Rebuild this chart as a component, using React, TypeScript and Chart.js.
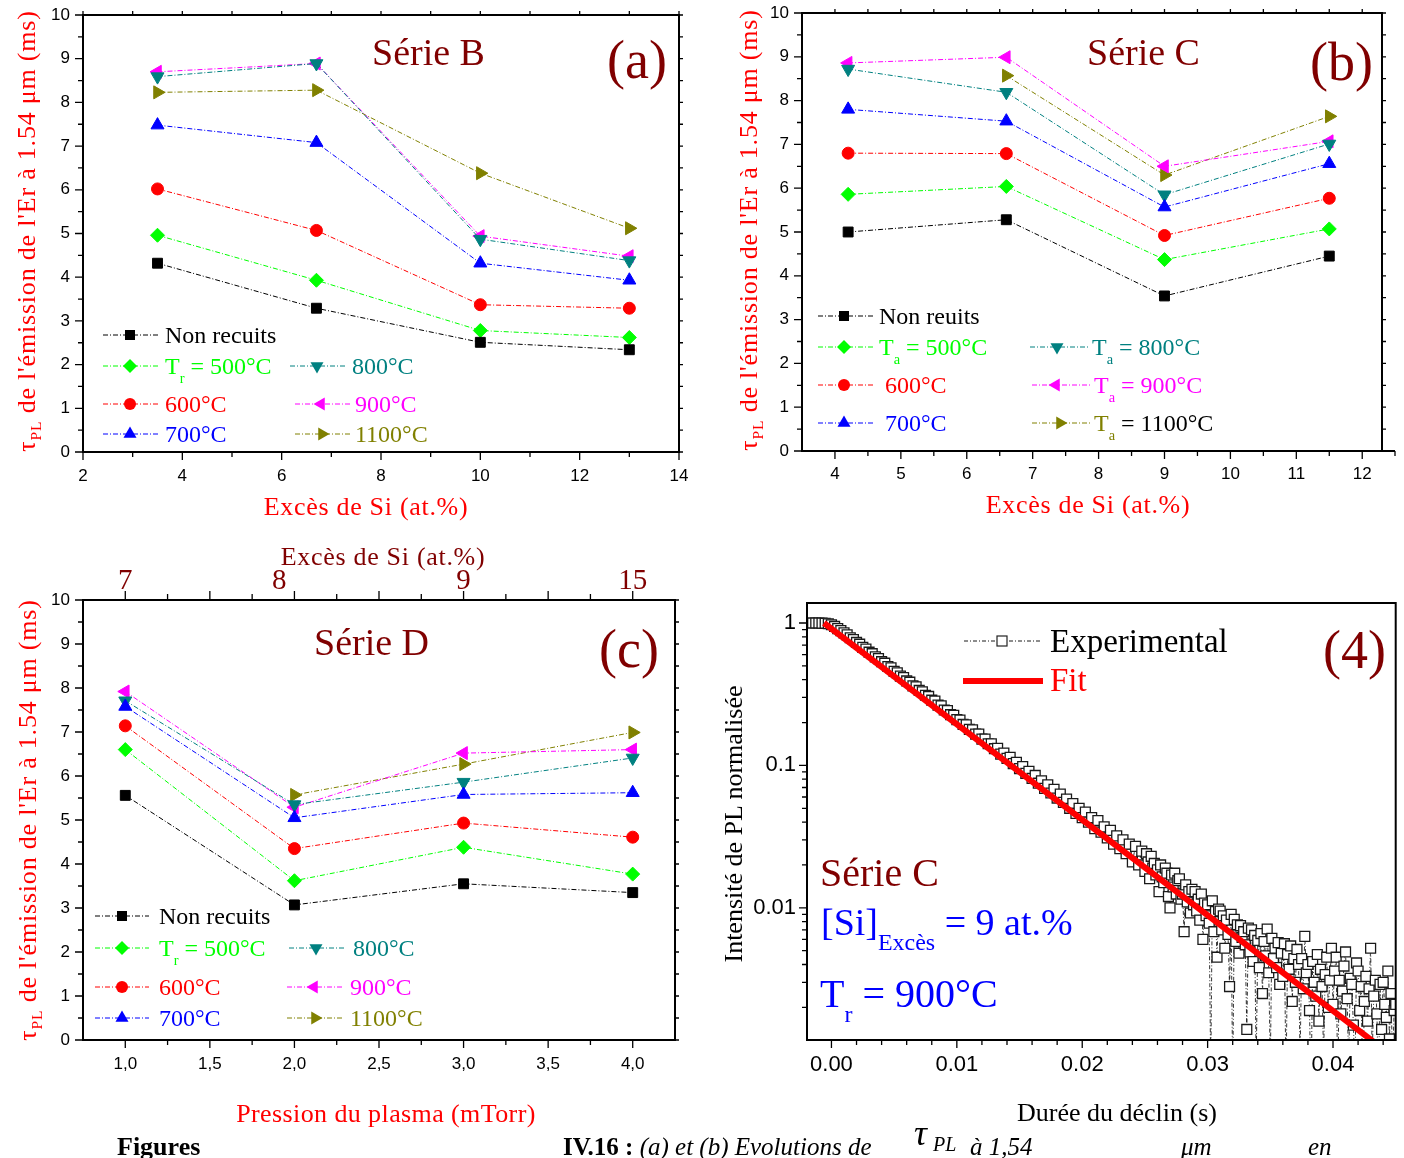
import React, { useEffect, useRef } from 'react';
import { Chart, registerables } from 'chart.js';

Chart.register(...registerables);

// ================= DATA =================
// Panel (a) – Série B : tau_PL (ms) vs excès de Si (at.%)
const A_X = [3.5, 6.7, 10, 13];
const A_NON_RECUITS = [4.32, 3.29, 2.51, 2.34];
const A_T500 = [4.96, 3.93, 2.78, 2.62];
const A_T600 = [6.02, 5.07, 3.37, 3.29];
const A_T700 = [7.48, 7.08, 4.32, 3.93];
const A_T800 = [8.59, 8.89, 4.87, 4.38];
const A_T900 = [8.7, 8.89, 4.94, 4.48];
const A_T1100 = [8.23, 8.28, 6.38, 5.12];

// Panel (b) – Série C
const B_X = [4.2, 6.6, 9, 11.5];
const B_NON_RECUITS = [5.0, 5.28, 3.54, 4.45];
const B_T500 = [5.86, 6.04, 4.37, 5.07];
const B_T600 = [6.8, 6.79, 4.92, 5.77];
const B_T700 = [7.8, 7.53, 5.57, 6.56];
const B_T800 = [8.72, 8.19, 5.85, 7.01];
const B_T900 = [8.86, 8.99, 6.5, 7.07];
const B_T1100 = [null, 8.57, 6.3, 7.64];

// Panel (c) – Série D : tau_PL (ms) vs pression du plasma (mTorr)
const C_X = [1, 2, 3, 4];
const C_NON_RECUITS = [5.56, 3.07, 3.55, 3.35];
const C_T500 = [6.6, 3.62, 4.38, 3.77];
const C_T600 = [7.14, 4.35, 4.93, 4.61];
const C_T700 = [7.58, 5.05, 5.58, 5.62];
const C_T800 = [7.71, 5.35, 5.86, 6.41];
const C_T900 = [7.92, 5.29, 6.52, 6.6];
const C_T1100 = [null, 5.57, 6.27, 6.99];

// Tick labels
const TAU_TICKS = [0, 1, 2, 3, 4, 5, 6, 7, 8, 9, 10];
const A_X_TICKS = [2, 4, 6, 8, 10, 12, 14];
const B_X_TICKS = [4, 5, 6, 7, 8, 9, 10, 11, 12];
const C_X_TICKS = [1, 1.5, 2, 2.5, 3, 3.5, 4];
const C_X_TICK_LABELS = ['1,0', '1,5', '2,0', '2,5', '3,0', '3,5', '4,0'];
const C_TOP_TICKS = [1, 1.91, 3, 4];
const C_TOP_LABELS = ['7', '8', '9', '15'];
const D_X_TICKS = [0, 0.01, 0.02, 0.03, 0.04];
const D_X_TICK_LABELS = ['0.00', '0.01', '0.02', '0.03', '0.04'];
const D_Y_TICKS = [0.01, 0.1, 1];
const D_Y_TICK_LABELS = ['0.01', '0.1', '1'];

// Panel (4) – PL decay, times in ms, normalised intensity
const D_T_MS = [
  -1.75, -1.5, -1.25, -1, -0.75, -0.5, -0.25,
  0, 0.25, 0.5, 0.75, 1, 1.25, 1.5, 1.75, 2, 2.25,
  2.5, 2.75, 3, 3.25, 3.5, 3.75, 4, 4.25, 4.5, 4.75,
  5, 5.25, 5.5, 5.75, 6, 6.25, 6.5, 6.75, 7, 7.25,
  7.5, 7.75, 8, 8.25, 8.5, 8.75, 9, 9.25, 9.5, 9.75,
  10, 10.25, 10.5, 10.75, 11, 11.25, 11.5, 11.75, 12, 12.25,
  12.5, 12.75, 13, 13.25, 13.5, 13.75, 14, 14.25, 14.5, 14.75,
  15, 15.25, 15.5, 15.75, 16, 16.25, 16.5, 16.75, 17, 17.25,
  17.5, 17.75, 18, 18.25, 18.5, 18.75, 19, 19.25, 19.5, 19.75,
  20, 20.25, 20.5, 20.75, 21, 21.25, 21.5, 21.75, 22, 22.25,
  22.5, 22.75, 23, 23.25, 23.5, 23.75, 24, 24.25, 24.5, 24.75,
  25, 25.125, 25.25, 25.375, 25.5, 25.625, 25.75, 25.875,
  26, 26.125, 26.25, 26.375, 26.5, 26.625, 26.75, 26.875,
  27, 27.125, 27.25, 27.375, 27.5, 27.625, 27.75, 27.875,
  28, 28.125, 28.25, 28.375, 28.5, 28.625, 28.75, 28.875,
  29, 29.125, 29.25, 29.375, 29.5, 29.625, 29.75, 29.875,
  30, 30.125, 30.25, 30.375, 30.5, 30.625, 30.75, 30.875,
  31, 31.125, 31.25, 31.375, 31.5, 31.625, 31.75, 31.875,
  32, 32.125, 32.25, 32.375, 32.5, 32.625, 32.75, 32.875,
  33, 33.125, 33.25, 33.375, 33.5, 33.625, 33.75, 33.875,
  34, 34.125, 34.25, 34.375, 34.5, 34.625, 34.75, 34.875,
  35, 35.125, 35.25, 35.375, 35.5, 35.625, 35.75, 35.875,
  36, 36.125, 36.25, 36.375, 36.5, 36.625, 36.75, 36.875,
  37, 37.125, 37.25, 37.375, 37.5, 37.625, 37.75, 37.875,
  38, 38.125, 38.25, 38.375, 38.5, 38.625, 38.75, 38.875,
  39, 39.125, 39.25, 39.375, 39.5, 39.625, 39.75, 39.875,
  40, 40.125, 40.25, 40.375, 40.5, 40.625, 40.75, 40.875,
  41, 41.125, 41.25, 41.375, 41.5, 41.625, 41.75, 41.875,
  42, 42.125, 42.25, 42.375, 42.5, 42.625, 42.75, 42.875,
  43, 43.125, 43.25, 43.375, 43.5, 43.625, 43.75, 43.875,
  44, 44.125, 44.25, 44.375, 44.5, 44.625, 44.75, 44.875,
  45,
];
const D_EXP = [
  1.0, 1.0, 1.0, 1.0, 0.998, 0.995, 0.988,
  0.972, 0.946, 0.914, 0.884, 0.853, 0.826, 0.788, 0.766, 0.73, 0.71,
  0.675, 0.657, 0.624, 0.609, 0.578, 0.563, 0.535, 0.522, 0.495, 0.484,
  0.458, 0.447, 0.424, 0.414, 0.392, 0.384, 0.362, 0.356, 0.336, 0.329,
  0.311, 0.305, 0.287, 0.283, 0.265, 0.262, 0.245, 0.243, 0.227, 0.225,
  0.21, 0.208, 0.194, 0.193, 0.179, 0.178, 0.166, 0.166, 0.153, 0.153,
  0.142, 0.142, 0.131, 0.132, 0.12, 0.122, 0.112, 0.114, 0.103, 0.105,
  0.095, 0.098, 0.088, 0.091, 0.081, 0.085, 0.075, 0.078, 0.069, 0.073,
  0.064, 0.068, 0.059, 0.063, 0.055, 0.058, 0.05, 0.054, 0.046, 0.05,
  0.043, 0.047, 0.04, 0.043, 0.036, 0.041, 0.034, 0.037, 0.031, 0.035,
  0.028, 0.032, 0.026, 0.03, 0.024, 0.028, 0.021, 0.027, 0.02, 0.025,
  0.018, 0.024, 0.021, 0.016, 0.023, 0.019, 0.0205, 0.017,
  0.0185, 0.013, 0.02, 0.0165, 0.015, 0.019, 0.0175, 0.012,
  0.01, 0.017, 0.014, 0.0175, 0.0125, 0.0155, 0.016, 0.0115,
  0.0125, 0.0068, 0.0145, 0.011, 0.013, 0.0092, 0.0135, 0.0105,
  0.013, 0.0095, 0.0115, 0.0082, 0.0125, 0.006, 0.0108, 0.0088,
  0.0105, 0.0078, 0.0007, 0.0112, 0.0068, 0.0094, 0.0045, 0.0098,
  0.0095, 0.007, 0.0088, 0.0052, 0.0082, 0.0065, 0.0028, 0.009,
  0.0006, 0.0083, 0.0058, 0.0076, 0.0048, 0.0075, 0.0062, 0.0068,
  0.0055, 0.0014, 0.0072, 0.0049, 0.007, 0.0042, 0.0064, 0.0008,
  0.0059, 0.0038, 0.0066, 0.0025, 0.0058, 0.0046, 0.0071, 0.0035,
  0.0008, 0.0061, 0.0044, 0.0052, 0.0038, 0.0057, 0.0029, 0.0048,
  0.0033, 0.0056, 0.0006, 0.0047, 0.0037, 0.0054, 0.0022, 0.0044,
  0.003, 0.0051, 0.004, 0.0009, 0.0044, 0.0027, 0.0063, 0.0035,
  0.004, 0.0019, 0.0005, 0.0042, 0.003, 0.0024, 0.0047, 0.0016,
  0.0037, 0.0028, 0.0009, 0.0034, 0.0045, 0.002, 0.0031, 0.0052,
  0.0021, 0.0036, 0.0045, 0.0006, 0.0031, 0.0018, 0.0026, 0.0039,
  0.0049, 0.0023, 0.0008, 0.0032, 0.0029, 0.0015, 0.0007, 0.0041,
  0.0036, 0.0019, 0.0028, 0.0005, 0.0022, 0.0033, 0.0016, 0.0027,
  0.0052, 0.0009, 0.0024, 0.0031, 0.0018, 0.0006, 0.0029, 0.0014,
  0.003, 0.0021, 0.0017, 0.0036, 0.0012, 0.0025, 0.0008, 0.0019,
  0.0021,
];
const D_FIT_T_MS = [-0.6, 44.0];
const D_FIT_Y = [1.0, 0.00102];

// ================= STYLE =================
const SERIF = "'Liberation Serif', 'Times New Roman', Times, serif";
const SANS = "'Liberation Sans', Arial, Helvetica, sans-serif";
const MAROON = '#800000';
const RED = '#ff0000';
const BLUE = '#0000ff';

const SERIES_NAMES = ['Non recuits', '500°C', '600°C', '700°C', '800°C', '900°C', '1100°C'];
const SERIES_COLORS = ['#000000', '#00ff00', '#ff0000', '#0000ff', '#008080', '#ff00ff', '#808000'];
const SERIES_SHAPES = ['square', 'diamond', 'circle', 'triUp', 'triDown', 'triLeft', 'triRight'];
const SHAPE_POINT: Record<string, { style: string; rotation: number; radius: number }> = {
  square: { style: 'rect', rotation: 0, radius: 7 },
  diamond: { style: 'rectRot', rotation: 0, radius: 7 },
  circle: { style: 'circle', rotation: 0, radius: 6 },
  triUp: { style: 'triangle', rotation: 0, radius: 7.5 },
  triDown: { style: 'triangle', rotation: 180, radius: 7.5 },
  triLeft: { style: 'triangle', rotation: 270, radius: 7.5 },
  triRight: { style: 'triangle', rotation: 90, radius: 7.5 },
};
const SHAPE_ROT: Record<string, number> = { triUp: 0, triDown: 180, triLeft: 270, triRight: 90 };

function range(a: number, b: number, step: number): number[] {
  const out: number[] = [];
  for (let v = a; v <= b + 1e-9; v += step) out.push(Math.round(v * 1e6) / 1e6);
  return out;
}

type TickSpec = { scale: string; side: 'left' | 'right' | 'top' | 'bottom'; values: number[]; len: number };

function frameTicksPlugin(specs: TickSpec[], frameWidth: number, extendRight = 0) {
  return {
    id: 'frameTicks',
    afterDraw(chart: any) {
      const { ctx, chartArea } = chart;
      const { left, right, top, bottom } = chartArea;
      ctx.save();
      ctx.strokeStyle = '#000';
      ctx.lineWidth = 1.3;
      for (const s of specs) {
        const sc = chart.scales[s.scale];
        ctx.beginPath();
        for (const v of s.values) {
          const p = sc.getPixelForValue(v);
          if (s.side === 'bottom') { ctx.moveTo(p, bottom); ctx.lineTo(p, bottom + s.len); }
          else if (s.side === 'top') { ctx.moveTo(p, top); ctx.lineTo(p, top - s.len); }
          else if (s.side === 'left') { ctx.moveTo(left, p); ctx.lineTo(left - s.len, p); }
          else { ctx.moveTo(right, p); ctx.lineTo(right + s.len, p); }
        }
        ctx.stroke();
      }
      if (extendRight > 0) {
        ctx.beginPath();
        ctx.moveTo(right + extendRight, bottom);
        ctx.lineTo(right + extendRight, bottom + 5);
        ctx.stroke();
        ctx.lineWidth = frameWidth;
        ctx.beginPath();
        ctx.moveTo(right, bottom);
        ctx.lineTo(right + extendRight, bottom);
        ctx.stroke();
      }
      ctx.lineWidth = frameWidth;
      ctx.strokeRect(left, top, right - left, bottom - top);
      ctx.restore();
    },
  };
}

// fix a scale's thickness and drop the label overflow padding it would ask for
const fixWidth = (w: number) => (s: any) => { s.width = w; s.paddingTop = 0; s.paddingBottom = 0; };
const fixHeight = (h: number) => (s: any) => { s.height = h; s.paddingLeft = 0; s.paddingRight = 0; };

interface TauPanel {
  xs: number[];
  series: (number | null)[][];
  xMin: number;
  xMax: number;
  xTicks: number[];
  xTickLabels: string[];
  xMinor: number[];
  yWidth: number;
  xHeight: number;
  padTop: number;
  padRight: number;
  xLabelPad: number;
  extendRight?: number;
  top?: { ticks: number[]; labels: string[]; majors: number[]; minors: number[]; height: number };
}

const TAU_MINOR = range(0.5, 9.5, 1);

function makeTauChart(canvas: HTMLCanvasElement, p: TauPanel) {
  const datasets = p.series.map((vals, i) => {
    const ps = SHAPE_POINT[SERIES_SHAPES[i]];
    return {
      label: SERIES_NAMES[i],
      data: p.xs.map((x, j) => ({ x, y: vals[j] })),
      borderColor: SERIES_COLORS[i],
      backgroundColor: SERIES_COLORS[i],
      borderWidth: 1,
      borderDash: [5, 2, 1, 2],
      pointStyle: ps.style,
      pointRotation: ps.rotation,
      pointRadius: ps.radius,
      pointBackgroundColor: SERIES_COLORS[i],
      pointBorderColor: SERIES_COLORS[i],
      pointBorderWidth: 1,
      fill: false,
      tension: 0,
    };
  });
  const tickFont = { family: SANS, size: 17 };
  const scales: any = {
    x: {
      type: 'linear', position: 'bottom', min: p.xMin, max: p.xMax,
      afterBuildTicks: (s: any) => { s.ticks = p.xTicks.map((v) => ({ value: v })); },
      afterFit: fixHeight(p.xHeight),
      ticks: {
        autoSkip: false, maxRotation: 0, font: tickFont, color: '#000', padding: p.xLabelPad,
        callback: (v: number) => p.xTickLabels[p.xTicks.indexOf(v)] ?? '',
      },
      grid: { display: false, drawTicks: false }, border: { display: false },
    },
    y: {
      type: 'linear', position: 'left', min: 0, max: 10,
      afterBuildTicks: (s: any) => { s.ticks = TAU_TICKS.map((v) => ({ value: v })); },
      afterFit: fixWidth(p.yWidth),
      ticks: { autoSkip: false, font: tickFont, color: '#000', padding: 13, callback: (v: number) => String(v) },
      grid: { display: false, drawTicks: false }, border: { display: false },
    },
  };
  const specs: TickSpec[] = [
    { scale: 'x', side: 'bottom', values: p.xTicks, len: 8 },
    { scale: 'x', side: 'bottom', values: p.xMinor, len: 5 },
    { scale: 'y', side: 'left', values: TAU_TICKS, len: 8 },
    { scale: 'y', side: 'left', values: TAU_MINOR, len: 5 },
    { scale: 'y', side: 'right', values: [...TAU_TICKS, ...TAU_MINOR], len: 4 },
  ];
  if (p.top) {
    const t = p.top;
    scales.x2 = {
      type: 'linear', position: 'top', min: p.xMin, max: p.xMax,
      afterBuildTicks: (s: any) => { s.ticks = t.ticks.map((v) => ({ value: v })); },
      afterFit: fixHeight(t.height),
      ticks: {
        autoSkip: false, maxRotation: 0, font: { family: SERIF, size: 29 }, color: MAROON, padding: 1,
        callback: (v: number) => t.labels[t.ticks.indexOf(v)] ?? '',
      },
      grid: { display: false, drawTicks: false }, border: { display: false },
    };
    specs.push({ scale: 'x2', side: 'top', values: t.majors, len: 9 });
    specs.push({ scale: 'x2', side: 'top', values: t.minors, len: 6 });
  } else {
    specs.push({ scale: 'x', side: 'top', values: [...p.xTicks, ...p.xMinor], len: 4 });
  }
  return new Chart(canvas, {
    type: 'line',
    data: { datasets },
    options: {
      responsive: false,
      maintainAspectRatio: false,
      animation: false,
      layout: { padding: { top: p.padTop, right: p.padRight, left: 0, bottom: 0 } },
      plugins: { legend: { display: false }, tooltip: { enabled: false } },
      scales,
    },
    plugins: [frameTicksPlugin(specs, 2, p.extendRight ?? 0)],
  } as any);
}

function makeDecayChart(canvas: HTMLCanvasElement) {
  const logMinor: number[] = [];
  [0.001, 0.01, 0.1].forEach((d) => { for (let k = 2; k <= 9; k++) logMinor.push(d * k); });
  const xMinor = range(0.002, 0.044, 0.002).filter((v) => Math.abs(v * 100 - Math.round(v * 100)) > 1e-6);
  const specs: TickSpec[] = [
    { scale: 'x', side: 'bottom', values: D_X_TICKS, len: 8 },
    { scale: 'x', side: 'bottom', values: xMinor, len: 5 },
    { scale: 'y', side: 'left', values: D_Y_TICKS, len: 8 },
    { scale: 'y', side: 'left', values: logMinor.filter((v) => v > 0.00118 && v < 1.38), len: 5 },
  ];
  return new Chart(canvas, {
    type: 'line',
    data: {
      datasets: [
        {
          label: 'Fit',
          data: D_FIT_T_MS.map((t, i) => ({ x: t / 1000, y: D_FIT_Y[i] })),
          borderColor: RED, borderWidth: 6, pointRadius: 0, fill: false, clip: 0, borderCapStyle: 'butt',
        },
        {
          label: 'Experimental',
          data: D_T_MS.map((t, i) => ({ x: t / 1000, y: D_EXP[i] })),
          borderColor: '#000', borderWidth: 0.8, borderDash: [4, 2, 1, 2],
          pointStyle: 'rect', pointRadius: 7, pointBackgroundColor: '#ffffff',
          pointBorderColor: '#1a1a1a', pointBorderWidth: 1.3, fill: false, clip: 0,
        },
      ],
    },
    options: {
      responsive: false,
      maintainAspectRatio: false,
      animation: false,
      layout: { padding: { top: 43, right: 8, left: 0, bottom: 0 } },
      plugins: { legend: { display: false }, tooltip: { enabled: false } },
      scales: {
        x: {
          type: 'linear', position: 'bottom', min: -0.00195, max: 0.045,
          afterBuildTicks: (s: any) => { s.ticks = D_X_TICKS.map((v) => ({ value: v })); },
          afterFit: fixHeight(50),
          ticks: {
            autoSkip: false, maxRotation: 0, font: { family: SANS, size: 22 }, color: '#000', padding: 12,
            callback: (v: number) => D_X_TICK_LABELS[D_X_TICKS.indexOf(v)] ?? '',
          },
          grid: { display: false, drawTicks: false }, border: { display: false },
        },
        y: {
          type: 'logarithmic', position: 'left', min: 0.00118, max: 1.382,
          afterBuildTicks: (s: any) => { s.ticks = D_Y_TICKS.map((v) => ({ value: v })); },
          afterFit: fixWidth(107),
          ticks: {
            autoSkip: false, font: { family: SANS, size: 22 }, color: '#000', padding: 11,
            callback: (v: number) => D_Y_TICK_LABELS[D_Y_TICKS.indexOf(v)] ?? '',
          },
          grid: { display: false, drawTicks: false }, border: { display: false },
        },
      },
    },
    plugins: [frameTicksPlugin(specs, 2)],
  } as any);
}

// ================= COMPONENTS =================
function ChartBox({ left, top, width, height, build }: any) {
  const ref = useRef<HTMLCanvasElement>(null);
  useEffect(() => {
    const chart = build(ref.current);
    return () => chart.destroy();
  }, []);
  return (
    <canvas
      ref={ref}
      width={width}
      height={height}
      style={{ position: 'absolute', left, top, width, height }}
    />
  );
}

function Txt({ x, y, size, color = '#000', center = false, weight = 'normal', italic = false, spacing = 0, children }: any) {
  return (
    <div
      style={{
        position: 'absolute', left: x, top: y - size * 0.5065, fontFamily: SERIF, fontSize: size,
        lineHeight: 1, color, whiteSpace: 'nowrap', fontWeight: weight,
        fontStyle: italic ? 'italic' : 'normal', letterSpacing: spacing,
        transform: center ? 'translateX(-50%)' : undefined,
      }}
    >
      {children}
    </div>
  );
}

function VTxt({ x, y, size, color = '#000', spacing = 0, children }: any) {
  return (
    <div
      style={{
        position: 'absolute', left: x, top: y, fontFamily: SERIF, fontSize: size, lineHeight: 1,
        color, whiteSpace: 'nowrap', letterSpacing: spacing,
        transform: 'translate(-50%, -50%) rotate(-90deg)',
      }}
    >
      {children}
    </div>
  );
}

function Sub({ children, scale = 0.6, drop = 0.65 }: any) {
  return <span style={{ fontSize: `${scale}em`, position: 'relative', top: `${drop}em` }}>{children}</span>;
}

function Marker({ shape, x, y, color }: any) {
  if (shape === 'square') return <rect x={x - 5} y={y - 5} width={10} height={10} fill={color} />;
  if (shape === 'diamond') return <polygon points={`${x},${y - 7} ${x + 7},${y} ${x},${y + 7} ${x - 7},${y}`} fill={color} />;
  if (shape === 'circle') return <circle cx={x} cy={y} r={6} fill={color} />;
  const r = 7.5;
  const rot = (SHAPE_ROT[shape] * Math.PI) / 180;
  const pts = [0, 1, 2]
    .map((k) => {
      const a = rot + (k * 2 * Math.PI) / 3;
      return `${x + Math.sin(a) * r},${y - Math.cos(a) * r}`;
    })
    .join(' ');
  return <polygon points={pts} fill={color} />;
}

// legend symbol positions: [series index, x1, x2, marker x, y]
const LEGEND_SYMBOLS: number[][] = [
  // (a)
  [0, 103, 159, 130, 335], [1, 103, 159, 130, 366], [2, 103, 159, 130, 404], [3, 103, 159, 130, 434],
  [4, 290, 347, 317, 366], [5, 295, 351, 321, 404], [6, 295, 351, 322, 434],
  // (b)
  [0, 818, 873, 844, 316], [1, 818, 873, 844, 347], [2, 818, 873, 844, 385], [3, 818, 873, 844, 423],
  [4, 1030, 1088, 1057, 347], [5, 1032, 1090, 1056, 385], [6, 1032, 1090, 1060, 423],
  // (c)
  [0, 95, 149, 122, 916], [1, 95, 149, 122, 948], [2, 95, 149, 122, 987], [3, 95, 149, 122, 1018],
  [4, 289, 345, 316, 948], [5, 287, 344, 314, 987], [6, 287, 344, 315, 1018],
];

function LegendLayer() {
  return (
    <svg width={1404} height={1158} style={{ position: 'absolute', left: 0, top: 0, pointerEvents: 'none' }}>
      {LEGEND_SYMBOLS.map(([si, x1, x2, mx, y], i) => (
        <g key={i}>
          <line x1={x1} y1={y} x2={x2} y2={y} stroke={SERIES_COLORS[si]} strokeWidth={1} strokeDasharray="5 2 1 2" />
          <Marker shape={SERIES_SHAPES[si]} x={mx} y={y} color={SERIES_COLORS[si]} />
        </g>
      ))}
      {/* (4) legend */}
      <line x1={964} y1={641} x2={1041} y2={641} stroke="#000" strokeWidth={0.9} strokeDasharray="4 2 1 2" />
      <rect x={997} y={636} width={10} height={10} fill="#fff" stroke="#222" strokeWidth={1.2} />
      <line x1={963} y1={681} x2={1043} y2={681} stroke={RED} strokeWidth={6} />
    </svg>
  );
}

const TauTitle = () => (
  <>
    τ<Sub scale={0.6} drop={0.4}>PL</Sub> de l'émission de l'Er à 1.54 μm (ms)
  </>
);

export default function App() {
  const buildA = (c: HTMLCanvasElement) =>
    makeTauChart(c, {
      xs: A_X,
      series: [A_NON_RECUITS, A_T500, A_T600, A_T700, A_T800, A_T900, A_T1100],
      xMin: 2, xMax: 14, xTicks: A_X_TICKS, xTickLabels: A_X_TICKS.map(String),
      xMinor: range(3, 13, 2), yWidth: 83, xHeight: 48, padTop: 15, padRight: 21, xLabelPad: 14,
    });
  const buildB = (c: HTMLCanvasElement) =>
    makeTauChart(c, {
      xs: B_X,
      series: [B_NON_RECUITS, B_T500, B_T600, B_T700, B_T800, B_T900, B_T1100],
      xMin: 3.5, xMax: 12.3, xTicks: B_X_TICKS, xTickLabels: B_X_TICKS.map(String),
      xMinor: range(4.5, 11.5, 1), yWidth: 82, xHeight: 49, padTop: 13, padRight: 22, xLabelPad: 13,
      extendRight: 13,
    });
  const buildC = (c: HTMLCanvasElement) =>
    makeTauChart(c, {
      xs: C_X,
      series: [C_NON_RECUITS, C_T500, C_T600, C_T700, C_T800, C_T900, C_T1100],
      xMin: 0.75, xMax: 4.25, xTicks: C_X_TICKS, xTickLabels: C_X_TICK_LABELS,
      xMinor: range(1.25, 3.75, 0.5), yWidth: 83, xHeight: 50, padTop: 0, padRight: 25, xLabelPad: 14,
      top: { ticks: C_TOP_TICKS, labels: C_TOP_LABELS, majors: C_X_TICKS, minors: range(1.25, 3.75, 0.5), height: 70 },
    });

  return (
    <div style={{ position: 'absolute', left: 0, top: 0, width: 1404, height: 1158, overflow: 'hidden', background: '#fff' }}>
      <ChartBox left={0} top={0} width={700} height={500} build={buildA} />
      <ChartBox left={720} top={0} width={684} height={500} build={buildB} />
      <ChartBox left={0} top={530} width={700} height={560} build={buildC} />
      <ChartBox left={700} top={560} width={704} height={530} build={makeDecayChart} />
      <LegendLayer />

      {/* ---- Panel (a) ---- */}
      <VTxt x={27} y={231} size={26} color={RED} spacing={0.8}><TauTitle /></VTxt>
      <Txt x={366} y={507} size={26} color={RED} center spacing={0.7}>Excès de Si (at.%)</Txt>
      <Txt x={372} y={52} size={38} color={MAROON}>Série B</Txt>
      <Txt x={607} y={60} size={54} color={MAROON}>(a)</Txt>
      <Txt x={165} y={335} size={24}>Non recuits</Txt>
      <Txt x={165} y={366} size={24} color="#00ff00">T<Sub>r</Sub> = 500°C</Txt>
      <Txt x={352} y={366} size={24} color="#008080">800°C</Txt>
      <Txt x={165} y={404} size={24} color={RED}>600°C</Txt>
      <Txt x={355} y={404} size={24} color="#ff00ff">900°C</Txt>
      <Txt x={165} y={434} size={24} color={BLUE}>700°C</Txt>
      <Txt x={355} y={434} size={24} color="#808000">1100°C</Txt>

      {/* ---- Panel (b) ---- */}
      <VTxt x={749} y={230} size={26} color={RED} spacing={0.8}><TauTitle /></VTxt>
      <Txt x={1088} y={505} size={26} color={RED} center spacing={0.7}>Excès de Si (at.%)</Txt>
      <Txt x={1087} y={52} size={38} color={MAROON}>Série C</Txt>
      <Txt x={1310} y={62} size={54} color={MAROON}>(b)</Txt>
      <Txt x={879} y={316} size={24}>Non reuits</Txt>
      <Txt x={879} y={347} size={24} color="#00ff00">T<Sub>a</Sub> = 500°C</Txt>
      <Txt x={1092} y={347} size={24} color="#008080">T<Sub>a</Sub> = 800°C</Txt>
      <Txt x={885} y={385} size={24} color={RED}>600°C</Txt>
      <Txt x={1094} y={385} size={24} color="#ff00ff">T<Sub>a</Sub> = 900°C</Txt>
      <Txt x={885} y={423} size={24} color={BLUE}>700°C</Txt>
      <Txt x={1094} y={423} size={24}><span style={{ color: '#808000' }}>T<Sub>a</Sub></span> = 1100°C</Txt>

      {/* ---- Panel (c) ---- */}
      <VTxt x={28} y={820} size={26} color={RED} spacing={0.8}><TauTitle /></VTxt>
      <Txt x={383} y={557} size={26} color={MAROON} center spacing={0.7}>Excès de Si (at.%)</Txt>
      <Txt x={386} y={1114} size={26} color={RED} center spacing={0.4}>Pression du plasma (mTorr)</Txt>
      <Txt x={314} y={642} size={38} color={MAROON}>Série D</Txt>
      <Txt x={599} y={649} size={54} color={MAROON}>(c)</Txt>
      <Txt x={159} y={916} size={24}>Non recuits</Txt>
      <Txt x={159} y={948} size={24} color="#00ff00">T<Sub>r</Sub> = 500°C</Txt>
      <Txt x={353} y={948} size={24} color="#008080">800°C</Txt>
      <Txt x={159} y={987} size={24} color={RED}>600°C</Txt>
      <Txt x={350} y={987} size={24} color="#ff00ff">900°C</Txt>
      <Txt x={159} y={1018} size={24} color={BLUE}>700°C</Txt>
      <Txt x={350} y={1018} size={24} color="#808000">1100°C</Txt>

      {/* ---- Panel (4) ---- */}
      <VTxt x={734} y={824} size={26}>Intensité de PL normalisée</VTxt>
      <Txt x={1117} y={1113} size={26} center>Durée du déclin (s)</Txt>
      <Txt x={1050} y={642} size={33}>Experimental</Txt>
      <Txt x={1050} y={681} size={33} color={RED}>Fit</Txt>
      <Txt x={1323} y={650} size={54} color={MAROON}>(4)</Txt>
      <Txt x={820} y={873} size={40} color={MAROON}>Série C</Txt>
      <Txt x={821} y={922} size={38} color={BLUE}>[Si]<Sub scale={0.63} drop={0.63}>Excès</Sub> = 9 at.%</Txt>
      <Txt x={820} y={994} size={40} color={BLUE}>T<Sub scale={0.6} drop={0.62}>r</Sub> = 900°C</Txt>

      {/* ---- Caption ---- */}
      <Txt x={117} y={1147} size={26} weight="bold">Figures</Txt>
      <Txt x={563} y={1147} size={25}><b>IV.16 :</b> <i>(a) et (b) Evolutions de</i></Txt>
      <Txt x={914} y={1133} size={36} italic>τ</Txt>
      <Txt x={933} y={1144} size={20} italic>PL</Txt>
      <Txt x={970} y={1147} size={25} italic>à 1,54</Txt>
      <Txt x={1181} y={1147} size={25} italic>μm</Txt>
      <Txt x={1308} y={1147} size={25} italic>en</Txt>
    </div>
  );
}
